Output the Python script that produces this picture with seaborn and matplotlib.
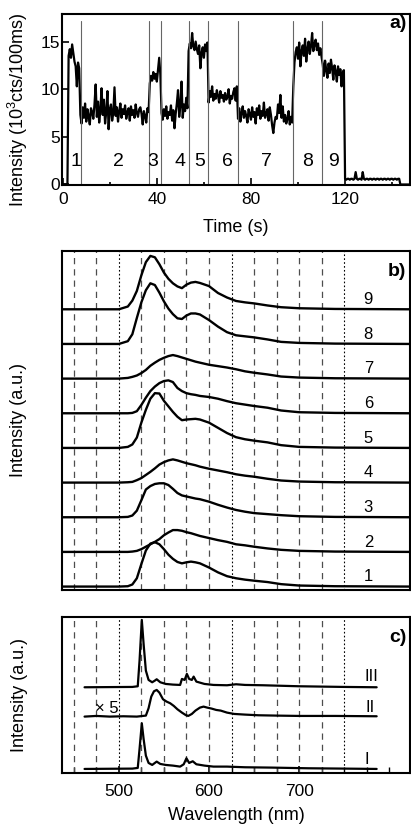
import matplotlib
matplotlib.use("Agg")
import matplotlib.pyplot as plt
from matplotlib.ticker import MultipleLocator
import numpy as np
import seaborn as sns

# ---- panel a: intensity trace in 0.5 s bins (10^3 cts / 100 ms) ----
lead_zeros = [0.0, 0.0, 0.0, 0.0, 0.0]
seg_1 = [13.5, 14.2, 13.3, 14.7, 13.8, 12.9, 12.4, 10.3, 12.8, 12.2]
seg_2 = [7.3, 6.4, 8.1, 7.0, 8.5, 6.6, 7.9, 7.2, 6.3, 8.0,
         7.6, 6.9, 8.4, 10.5, 7.1, 8.7, 6.5, 7.8, 10.1, 7.3,
         8.9, 6.4, 7.6, 9.8, 5.8, 7.9, 8.4, 6.7, 7.5, 10.2,
         7.2, 8.1, 6.6, 7.7, 8.5, 7.0, 7.9, 7.4, 8.3, 6.9,
         7.6, 8.0, 6.7, 8.2, 7.3, 7.8, 7.0, 8.4, 7.5, 7.1,
         7.9, 8.1, 7.4, 6.3, 7.7, 7.2, 6.5, 8.0, 7.6]
seg_3 = [10.6, 11.4, 10.9, 11.8, 11.1, 11.6, 10.8, 12.0, 13.3, 11.5]
seg_4 = [7.5, 6.8, 7.9, 7.2, 8.2, 6.9, 7.6, 7.3, 8.3, 6.7, 7.8, 5.9,
         7.4, 8.5, 9.9, 7.1, 8.3, 10.8, 7.0, 8.4, 7.7, 9.1, 8.0]
seg_5 = [14.0, 14.8, 14.3, 15.9, 14.5, 14.1, 15.0, 14.2, 13.7, 14.6,
         12.2, 13.8, 14.4, 13.3, 14.7, 14.0, 14.9]
seg_6 = [8.6, 9.8, 9.2, 10.3, 8.8, 9.5, 9.0, 9.9, 9.3, 8.6, 9.8, 9.1, 9.4,
         8.7, 9.6, 8.9, 9.2, 10.0, 8.5, 9.3, 9.0, 9.7, 10.1, 8.8, 10.3]
seg_7 = [6.9, 8.0, 6.6, 7.5, 8.2, 7.0, 7.7, 7.2, 6.5, 7.9,
         7.4, 6.8, 8.1, 7.1, 7.6, 6.4, 8.0, 7.3, 8.3, 6.9,
         7.7, 7.2, 8.6, 7.0, 7.4, 7.9, 6.7, 8.1, 7.3, 6.2,
         5.4, 6.5, 7.1, 6.9, 8.4, 7.5, 9.4, 7.0, 8.2, 6.6,
         7.3, 6.4, 6.9, 7.7, 6.3, 7.1, 6.5]
seg_8 = [10.3, 12.8, 13.9, 14.4, 13.2, 14.9, 12.4, 14.0, 14.6, 13.5, 15.3,
         12.9, 14.2, 15.0, 13.7, 14.5, 15.9, 14.0, 14.7, 15.2, 14.1, 14.8,
         13.6, 14.3, 13.4]
seg_9 = [12.6, 11.4, 13.0, 12.0, 11.2, 12.7, 11.7, 13.1, 12.2, 11.0,
         12.5, 11.9, 10.8, 12.4, 11.5, 12.1, 10.3, 11.8, 12.0]
tail = [0.6, 0.5, 0.6, 0.6, 0.5, 0.6, 0.6, 0.5, 0.6, 1.3,
        0.6, 0.5, 0.6, 0.6, 0.5, 1.3, 0.6, 0.5, 0.6, 0.6,
        0.5, 0.6, 0.6, 0.5, 0.6, 0.6, 0.5, 0.6, 0.6, 0.5,
        0.6, 0.6, 0.5, 0.6, 0.6, 0.5, 0.6, 0.6, 0.5, 0.6,
        0.6, 0.5, 0.6, 0.6, 0.5, 0.6, 0.6]
end_zeros = [0.0] * 9

switch_times = [7.8, 36.7, 41.9, 53.5, 61.9, 74.4, 98.0, 110.2]
segment_labels = ["1", "2", "3", "4", "5", "6", "7", "8", "9"]
segment_label_t = [5.6, 23.5, 38.4, 49.9, 58.4, 70.1, 86.7, 104.2, 114.9]

# ---- panel b: spectra of segments 1..9 (a.u.) ----
wl_b = [437, 500, 510, 515, 520, 525, 530, 535, 540, 545, 550, 555, 560, 565,
        570, 575, 580, 585, 590, 600, 610, 620, 630, 640, 650, 665, 680, 700,
        740, 823]
spec_1 = [0, 0, 0.01, 0.06, 0.24, 0.65, 1.04, 1.24, 1.28, 1.22, 1.08, 0.92,
          0.80, 0.71, 0.67, 0.70, 0.72, 0.70, 0.67, 0.55, 0.41, 0.30, 0.24,
          0.20, 0.17, 0.13, 0.07, 0.03, 0.01, 0]
spec_2 = [0, 0, 0, 0.01, 0.03, 0.08, 0.15, 0.22, 0.29, 0.37, 0.48, 0.56,
          0.63, 0.63, 0.61, 0.57, 0.54, 0.50, 0.46, 0.40, 0.34, 0.29, 0.22,
          0.19, 0.15, 0.10, 0.06, 0.03, 0.01, 0]
spec_3 = [0, 0, 0.01, 0.05, 0.19, 0.49, 0.80, 0.90, 0.96, 0.98, 0.98, 0.93,
          0.82, 0.70, 0.63, 0.60, 0.57, 0.54, 0.52, 0.45, 0.36, 0.28, 0.21,
          0.16, 0.12, 0.09, 0.06, 0.03, 0.01, 0]
spec_4 = [0, 0, 0.01, 0.02, 0.07, 0.13, 0.22, 0.31, 0.41, 0.52, 0.59, 0.64,
          0.67, 0.64, 0.60, 0.56, 0.53, 0.50, 0.46, 0.40, 0.35, 0.30, 0.24,
          0.20, 0.17, 0.11, 0.06, 0.03, 0.01, 0]
spec_5 = [0, 0, 0.03, 0.10, 0.30, 0.73, 1.10, 1.42, 1.58, 1.57, 1.36, 1.20,
          1.04, 0.90, 0.80, 0.82, 0.83, 0.84, 0.82, 0.73, 0.58, 0.43, 0.31,
          0.25, 0.21, 0.16, 0.08, 0.03, 0.01, 0]
spec_6 = [0, 0, 0, 0.01, 0.06, 0.24, 0.45, 0.64, 0.77, 0.87, 0.93, 0.95,
          0.90, 0.73, 0.64, 0.58, 0.55, 0.53, 0.50, 0.47, 0.42, 0.35, 0.29,
          0.25, 0.21, 0.16, 0.08, 0.03, 0.01, 0]
spec_7 = [0, 0, 0.02, 0.05, 0.09, 0.16, 0.25, 0.37, 0.46, 0.54, 0.60, 0.65,
          0.68, 0.65, 0.61, 0.57, 0.53, 0.49, 0.46, 0.40, 0.36, 0.32, 0.27,
          0.21, 0.17, 0.12, 0.06, 0.03, 0.01, 0]
spec_8 = [0, 0, 0.08, 0.28, 0.75, 1.20, 1.55, 1.75, 1.70, 1.48, 1.23, 1.02,
          0.86, 0.74, 0.72, 0.82, 0.88, 0.88, 0.85, 0.69, 0.50, 0.34, 0.25,
          0.22, 0.19, 0.13, 0.06, 0.03, 0.01, 0]
spec_9 = [0, 0, 0.08, 0.25, 0.53, 0.98, 1.36, 1.54, 1.50, 1.30, 1.06, 0.88,
          0.75, 0.66, 0.61, 0.71, 0.77, 0.79, 0.76, 0.67, 0.47, 0.34, 0.24,
          0.20, 0.17, 0.11, 0.06, 0.03, 0.01, 0]
spectra_b = [spec_1, spec_2, spec_3, spec_4, spec_5, spec_6, spec_7, spec_8, spec_9]

# ---- panel c: spectra I, II (x5), III ----
wl_I = [462, 515, 521, 523, 525.5, 527.5, 530, 533, 537, 540, 542, 546, 552,
        560, 568, 572, 575, 578, 582, 586, 595, 605, 620, 640, 670, 710, 750, 786]
int_I = [0, 0.01, 0.03, 0.6, 1.37, 0.9, 0.40, 0.18, 0.12, 0.18, 0.22, 0.15,
         0.12, 0.10, 0.07, 0.14, 0.32, 0.18, 0.23, 0.14, 0.10, 0.07, 0.07,
         0.05, 0.04, 0.02, 0.01, 0]
wl_II = [462, 475, 490, 505, 520, 530, 533, 536, 539, 542, 545, 549, 553, 557,
         561, 565, 570, 574, 577, 581, 585, 590, 594, 598, 603, 608, 613, 620,
         628, 640, 655, 675, 700, 740, 786]
int_II = [0, 0.02, 0, 0.01, 0, 0.03, 0.25, 0.60, 0.76, 0.80, 0.72, 0.52, 0.45,
          0.40, 0.32, 0.22, 0.12, 0.05, 0.02, 0.08, 0.18, 0.27, 0.30, 0.27,
          0.24, 0.20, 0.18, 0.12, 0.08, 0.06, 0.04, 0.03, 0.02, 0.02, 0.01]
wl_III = [462, 515, 521, 523, 525.5, 527.5, 530, 533, 537, 540, 542, 546, 552,
          560, 568, 570, 573, 575.5, 578, 581, 583, 586, 595, 605, 620, 630,
          640, 660, 700, 750, 786]
int_III = [0, 0.01, 0.03, 0.8, 2.02, 1.3, 0.50, 0.22, 0.15, 0.20, 0.24, 0.15,
           0.10, 0.08, 0.07, 0.25, 0.22, 0.40, 0.25, 0.22, 0.32, 0.17, 0.10,
           0.07, 0.06, 0.09, 0.07, 0.06, 0.03, 0.01, 0]
c_labels = ["I", "II", "III"]

sns.set_theme(style="ticks")
plt.rcParams["font.family"] = ["Liberation Sans", "DejaVu Sans"]
plt.rcParams["mathtext.default"] = "regular"
plt.rcParams["axes.linewidth"] = 1.5
for key in ("text.color", "axes.labelcolor", "xtick.color", "ytick.color",
            "axes.edgecolor"):
    plt.rcParams[key] = "black"

fig = plt.figure(figsize=(4.11, 8.25), dpi=100)
ax_a = fig.add_axes([0.1509, 0.7758, 0.8467, 0.2073])
ax_b = fig.add_axes([0.1509, 0.2848, 0.8467, 0.4113])
ax_c = fig.add_axes([0.1509, 0.0627, 0.8467, 0.1891])

# ---- a) ----
counts = np.concatenate([lead_zeros, seg_1, seg_2, seg_3, seg_4, seg_5, seg_6,
                         seg_7, seg_8, seg_9, tail, end_zeros])
time_s = np.arange(len(counts)) * 0.5
sns.lineplot(x=time_s, y=counts, ax=ax_a, color="black", lw=1.6,
             estimator=None, sort=False)
for t in switch_times:
    ax_a.plot([t, t], [0, 17.2], color="0.4", lw=0.8)
for lab, t in zip(segment_labels, segment_label_t):
    ax_a.text(t, 2.4, lab, ha="center", va="center", fontsize=14)
ax_a.set_xlim(-0.3, 147.6)
ax_a.set_ylim(-0.05, 17.9)
ax_a.set_xticks([0, 40, 80, 120])
ax_a.xaxis.set_minor_locator(MultipleLocator(20))
ax_a.set_yticks([0, 5, 10, 15])
ax_a.tick_params(axis="both", which="major", direction="in", length=5,
                 width=1.2, labelsize=12.5)
ax_a.tick_params(axis="x", which="major", pad=5)
ax_a.tick_params(axis="y", which="major", pad=1.5)
ax_a.tick_params(axis="x", which="minor", direction="in", length=2.5, width=1.2)
ax_a.set_xlabel("Time (s)", fontsize=13)
ax_a.xaxis.set_label_coords(0.5, -0.2)
ax_a.set_ylabel("")
ax_a.text(0.99, 0.945, "a)", transform=ax_a.transAxes, ha="right", va="center",
          fontsize=14, fontweight="bold")

# ---- shared wavelength grid lines for b) and c) ----
grid_nm = [450, 475, 500, 525, 550, 575, 600, 625, 650, 675, 700, 725, 750]
for ax in (ax_b, ax_c):
    for g in grid_nm:
        if g in (500, 625, 750):
            ax.axvline(g, color="black", lw=0.8, ls=(0, (1.5, 2)))
        else:
            ax.axvline(g, color="0.3", lw=0.9, ls=(0, (5, 4)))
    ax.set_xlim(437, 823)

# ---- b) ----
for i, spec in enumerate(spectra_b):
    sns.lineplot(x=wl_b, y=np.array(spec) + i, ax=ax_b, color="black", lw=1.7,
                 estimator=None, sort=False)
    ax_b.text(776.8, i + 0.28, str(i + 1), ha="center", va="center", fontsize=12)
ax_b.set_ylim(-0.1, 9.69)
ax_b.tick_params(bottom=False, labelbottom=False, left=False, labelleft=False)
ax_b.set_xlabel("")
ax_b.set_ylabel("")
ax_b.text(0.99, 0.94, "b)", transform=ax_b.transAxes, ha="right", va="center",
          fontsize=14, fontweight="bold")

# ---- c) ----
c_offsets = [0, 1.57, 2.45]
for wl, inten, off in zip([wl_I, wl_II, wl_III], [int_I, int_II, int_III], c_offsets):
    sns.lineplot(x=wl, y=np.array(inten) + off, ax=ax_c, color="black", lw=1.6,
                 estimator=None, sort=False)
ax_c.text(775, 0.27, c_labels[0], ha="center", va="center", fontsize=12)
ax_c.text(778.6, 1.85, c_labels[1], ha="center", va="center", fontsize=12)
ax_c.text(780.5, 2.77, c_labels[2], ha="center", va="center", fontsize=12)
ax_c.text(486.3, 1.82, "\u00d7 5", ha="center", va="center", fontsize=12)
ax_c.set_ylim(-0.13, 4.55)
ax_c.set_xticks([500, 600, 700])
ax_c.xaxis.set_minor_locator(MultipleLocator(25))
ax_c.tick_params(axis="x", which="major", direction="in", length=5, width=1.2,
                 labelsize=12.5, pad=8)
ax_c.tick_params(axis="x", which="minor", direction="in", length=4, width=1.0)
ax_c.tick_params(left=False, labelleft=False)
ax_c.set_xlabel("Wavelength (nm)", fontsize=13)
ax_c.xaxis.set_label_coords(0.5, -0.215)
ax_c.set_ylabel("")
ax_c.text(0.99, 0.87, "c)", transform=ax_c.transAxes, ha="right", va="center",
          fontsize=14, fontweight="bold")

# y labels placed as in the figure
fig.text(17.5 / 411, 1 - 110 / 825, "Intensity (10$^3$cts/100ms)", rotation=90,
         ha="center", va="center", fontsize=13)
fig.text(18.5 / 411, 1 - 420 / 825, "Intensity (a.u.)", rotation=90,
         ha="center", va="center", fontsize=13)
fig.text(19 / 411, 1 - 695 / 825, "Intensity (a.u.)", rotation=90,
         ha="center", va="center", fontsize=13)

fig.savefig("out.png", dpi=100)
